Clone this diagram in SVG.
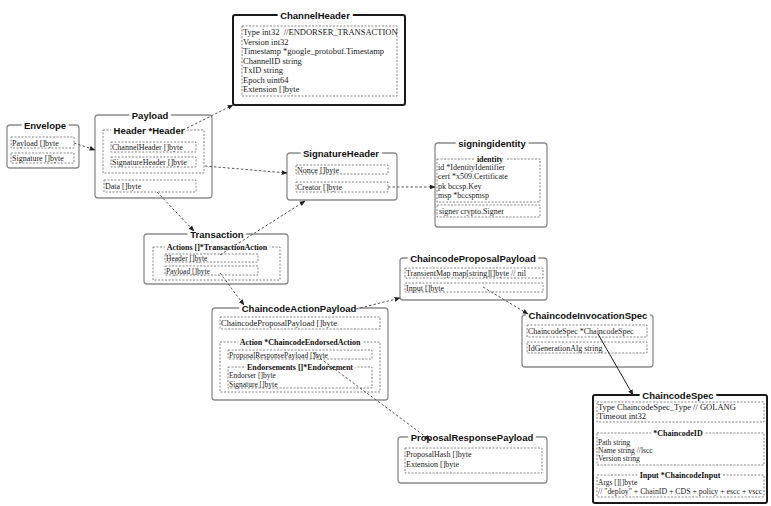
<svg xmlns="http://www.w3.org/2000/svg" width="771" height="506" viewBox="0 0 771 506">
<style>
.box{fill:#fff;stroke:#8c8c8c;stroke-width:1.3}
.hbox{fill:#fff;stroke:#1a1a1a;stroke-width:2}
.d{fill:none;stroke:#7a7a7a;stroke-width:0.9;stroke-dasharray:2 1.5}
.t{font-family:"Liberation Sans",Arial,sans-serif;font-weight:bold;font-size:9.5px;text-anchor:middle;fill:#111;stroke:#fff;stroke-width:6;stroke-linejoin:round;paint-order:stroke}
.st{font-family:"Liberation Serif","Times New Roman",serif;font-weight:bold;font-size:8px;text-anchor:middle;fill:#111;stroke:#fff;stroke-width:5;stroke-linejoin:round;paint-order:stroke}
.x{font-family:"Liberation Serif","Times New Roman",serif;font-size:8.5px;fill:#1a1a1a}
.s{font-size:7.5px}
.m{font-size:8px}
.c{fill:none;stroke:#444;stroke-width:0.9;stroke-dasharray:2.5 2;marker-end:url(#a)}
.cs{fill:none;stroke:#222;stroke-width:1;marker-end:url(#a)}
</style>
<defs>
<marker id="a" viewBox="0 0 10 10" refX="9" refY="5" markerWidth="6" markerHeight="6" markerUnits="userSpaceOnUse" orient="auto">
<path d="M0,1 L10,5 L0,9 Z" fill="#222"/>
</marker>
</defs>
<rect width="771" height="506" fill="#fff"/>

<g id="ChannelHeader">
<rect class="hbox" x="233" y="15" width="172" height="90" rx="2"/>
<text class="t" x="315" y="18.5">ChannelHeader</text>
<rect class="d" x="242" y="26" width="155" height="70"/>
<text class="x" x="243" y="35" xml:space="preserve">Type int32  //ENDORSER_TRANSACTION</text>
<text class="x" x="243" y="44.5">Version int32</text>
<text class="x" x="243" y="54">Timestamp *google_protobuf.Timestamp</text>
<text class="x" x="243" y="63.5">ChannelID string</text>
<text class="x" x="243" y="73">TxID string</text>
<text class="x" x="243" y="82.5">Epoch uint64</text>
<text class="x" x="243" y="92">Extension []byte</text>
</g>

<g id="Envelope">
<rect class="box" x="7" y="125" width="72" height="43" rx="3"/>
<text class="t" x="45" y="128.5">Envelope</text>
<rect class="d" x="11" y="137" width="63" height="11"/>
<text class="x m" x="12" y="145.5">Payload []byte</text>
<rect class="d" x="11" y="153" width="63" height="10"/>
<text class="x m" x="12" y="161">Signature []byte</text>
</g>

<g id="Payload">
<rect class="box" x="95" y="115" width="117" height="83" rx="3"/>
<text class="t" x="150" y="118.5">Payload</text>
<rect class="d" x="103" y="130" width="101" height="43"/>
<text class="t" x="149" y="133.5">Header *Header</text>
<rect class="d" x="111" y="142" width="85" height="10"/>
<text class="x m" x="112" y="150">ChannelHeader []byte</text>
<rect class="d" x="111" y="157" width="85" height="10"/>
<text class="x m" x="112" y="165">SignatureHeader []byte</text>
<rect class="d" x="104" y="180" width="92" height="12"/>
<text class="x m" x="105" y="189">Data []byte</text>
</g>

<g id="SignatureHeader">
<rect class="box" x="287" y="153" width="110" height="47" rx="3"/>
<text class="t" x="341" y="156.5">SignatureHeader</text>
<rect class="d" x="296" y="165" width="92" height="9"/>
<text class="x m" x="297" y="172.5">Nonce []byte</text>
<rect class="d" x="296" y="182" width="92" height="10"/>
<text class="x m" x="297" y="190">Creator []byte</text>
</g>

<g id="signingidentity">
<rect class="box" x="435" y="143" width="112" height="84" rx="3"/>
<text class="t" x="492" y="146.5">signingidentity</text>
<rect class="d" x="437" y="159" width="103" height="43"/>
<text class="st" x="490" y="161.5">identity</text>
<text class="x m" x="438" y="170">id *IdentityIdentifier</text>
<text class="x m" x="438" y="179">cert *x509.Certificate</text>
<text class="x m" x="438" y="188.5">pk bccsp.Key</text>
<text class="x m" x="438" y="197.5">msp *bccspmsp</text>
<rect class="d" x="437" y="205" width="103" height="12"/>
<text class="x m" x="439" y="214">signer crypto.Signer</text>
</g>

<g id="Transaction">
<rect class="box" x="144" y="234" width="144" height="50" rx="3"/>
<text class="t" x="217" y="237.5">Transaction</text>
<rect class="d" x="153" y="247" width="127" height="33"/>
<text class="st" x="217" y="250">Actions []*TransactionAction</text>
<rect class="d" x="165" y="254" width="93" height="8"/>
<text class="x s" x="166" y="261">Header []byte</text>
<rect class="d" x="165" y="266" width="93" height="9"/>
<text class="x s" x="166" y="273.5">Payload []byte</text>
</g>

<g id="ChaincodeProposalPayload">
<rect class="box" x="400" y="258" width="147" height="42" rx="3"/>
<text class="t" x="473" y="261.5">ChaincodeProposalPayload</text>
<rect class="d" x="405" y="268" width="138" height="10"/>
<text class="x m" x="406" y="276">TransientMap map[string][]byte // nil</text>
<rect class="d" x="405" y="283" width="138" height="9"/>
<text class="x m" x="406" y="290.5">Input []byte</text>
</g>

<g id="ChaincodeActionPayload">
<rect class="box" x="212" y="308" width="176" height="92" rx="3"/>
<text class="t" x="299" y="311.5">ChaincodeActionPayload</text>
<rect class="d" x="220" y="317" width="160" height="12"/>
<text class="x" x="221" y="326">ChaincodeProposalPayload []byte</text>
<rect class="d" x="220" y="342" width="160" height="50"/>
<text class="st" x="300" y="345">Action *ChaincodeEndorsedAction</text>
<rect class="d" x="228" y="350" width="144" height="9"/>
<text class="x s" x="229" y="357.5">ProposalResponsePayload []byte</text>
<rect class="d" x="228" y="367" width="144" height="21"/>
<text class="st" x="300" y="370">Endorsements []*Endorsement</text>
<text class="x s" x="229" y="378">Endorser []byte</text>
<text class="x s" x="229" y="386.5">Signature []byte</text>
</g>

<g id="ChaincodeInvocationSpec">
<rect class="box" x="522" y="315" width="131" height="52" rx="3"/>
<text class="t" x="588" y="318.5">ChaincodeInvocationSpec</text>
<rect class="d" x="527" y="325" width="120" height="12"/>
<text class="x m" x="528" y="334">ChaincodeSpec *ChaincodeSpec</text>
<rect class="d" x="527" y="342" width="120" height="11"/>
<text class="x m" x="528" y="351">IdGenerationAlg string</text>
</g>

<g id="ChaincodeSpec">
<rect class="hbox" x="593" y="395" width="174" height="108" rx="2"/>
<text class="t" x="678" y="398.5">ChaincodeSpec</text>
<rect class="d" x="597" y="402" width="167" height="20"/>
<text class="x" x="598" y="410">Type ChaincodeSpec_Type // GOLANG</text>
<text class="x" x="598" y="419">Timeout int32</text>
<rect class="d" x="597" y="433" width="167" height="32"/>
<text class="st" x="678" y="436">*ChaincodeID</text>
<text class="x s" x="598" y="445">Path string</text>
<text class="x s" x="598" y="453">Name string //lscc</text>
<text class="x s" x="598" y="461">Version string</text>
<rect class="d" x="597" y="475" width="167" height="22"/>
<text class="st" x="680" y="478">Input *ChaincodeInput</text>
<text class="x s" x="598" y="485">Args [][]byte</text>
<text class="x" x="598" y="493.5" style="font-size:7.8px">// "deploy" + ChainID + CDS + policy + escc + vscc</text>
</g>

<g id="ProposalResponsePayload">
<rect class="box" x="398" y="437" width="149" height="46" rx="3"/>
<text class="t" x="472" y="440.5">ProposalResponsePayload</text>
<rect class="d" x="405" y="448" width="137" height="25"/>
<text class="x m" x="406" y="457">ProposalHash []byte</text>
<text class="x m" x="406" y="467">Extension []byte</text>
</g>

<g id="connectors">
<line class="c" x1="74" y1="143" x2="95" y2="150"/>
<line class="c" x1="183" y1="130" x2="233" y2="105"/>
<line class="c" x1="205" y1="166" x2="287" y2="173"/>
<line class="c" x1="157" y1="192" x2="194" y2="231"/>
<line class="c" x1="388" y1="187" x2="435" y2="187"/>
<line class="c" x1="220" y1="255" x2="305" y2="201"/>
<line class="c" x1="220" y1="273" x2="244" y2="305"/>
<line class="c" x1="356" y1="309" x2="400" y2="298"/>
<line class="c" x1="483" y1="287" x2="528" y2="314"/>
<line class="c" x1="313" y1="353" x2="430" y2="440"/>
<line class="cs" x1="598" y1="334" x2="633" y2="395"/>
</g>
</svg>
